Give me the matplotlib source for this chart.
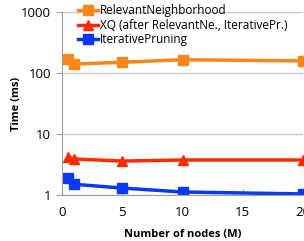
import matplotlib.pyplot as plt

nodes = [0.5, 1, 5, 10, 20]
relevant = [170, 140, 150, 165, 158]
xq = [4.2, 3.9, 3.6, 3.75, 3.75]
iterative = [1.9, 1.5, 1.3, 1.12, 1.04]

plt.rcParams['font.family'] = ['Open Sans', 'DejaVu Sans']

fig = plt.figure(figsize=(3.04, 2.41), dpi=100)
ax = fig.add_axes([62/304, 46/241, 241/304, 183/241])

ax.plot(nodes, relevant, color='#F7861B', marker='s', markersize=7, lw=2.5,
        label='RelevantNeighborhood')
ax.plot(nodes, xq, color='#FF2A00', marker='^', markersize=7, lw=2.5,
        label='XQ (after RelevantNe., IterativePr.)')
ax.plot(nodes, iterative, color='#0A3AF0', marker='s', markersize=7, lw=2.5,
        label='IterativePruning')

ax.set_yscale('log')
ax.set_ylim(1, 1000)
ax.set_xlim(0, 20)
ax.set_xticks([0, 5, 10, 15, 20])
ax.set_yticks([1, 10, 100, 1000])
ax.set_yticklabels(['1', '10', '100', '1000'])
ax.minorticks_off()
ax.yaxis.grid(True, color='#C8C8C8', lw=1)
ax.set_axisbelow(True)
for s in ['top', 'right']:
    ax.spines[s].set_visible(False)
ax.spines['left'].set_color('#A0A0A0')
ax.spines['bottom'].set_color('#A0A0A0')
ax.tick_params(axis='y', length=4, color='#A0A0A0', labelsize=9.5, pad=4)
ax.tick_params(axis='x', length=4, color='#A0A0A0', labelsize=9.5, pad=8,
               direction='in')

ax.set_xlabel('Number of nodes (M)', fontsize=8, fontweight='bold', labelpad=7)
ax.set_ylabel('Time (ms)', fontsize=8, fontweight='bold')
ax.yaxis.set_label_coords(-0.165, 0.5)

ax.legend(loc='upper left', bbox_to_anchor=(0.045, 1.07), frameon=False,
          fontsize=8.5, handlelength=1.7, handletextpad=0.2, labelspacing=0.15,
          borderaxespad=0)

fig.savefig('out.png')
